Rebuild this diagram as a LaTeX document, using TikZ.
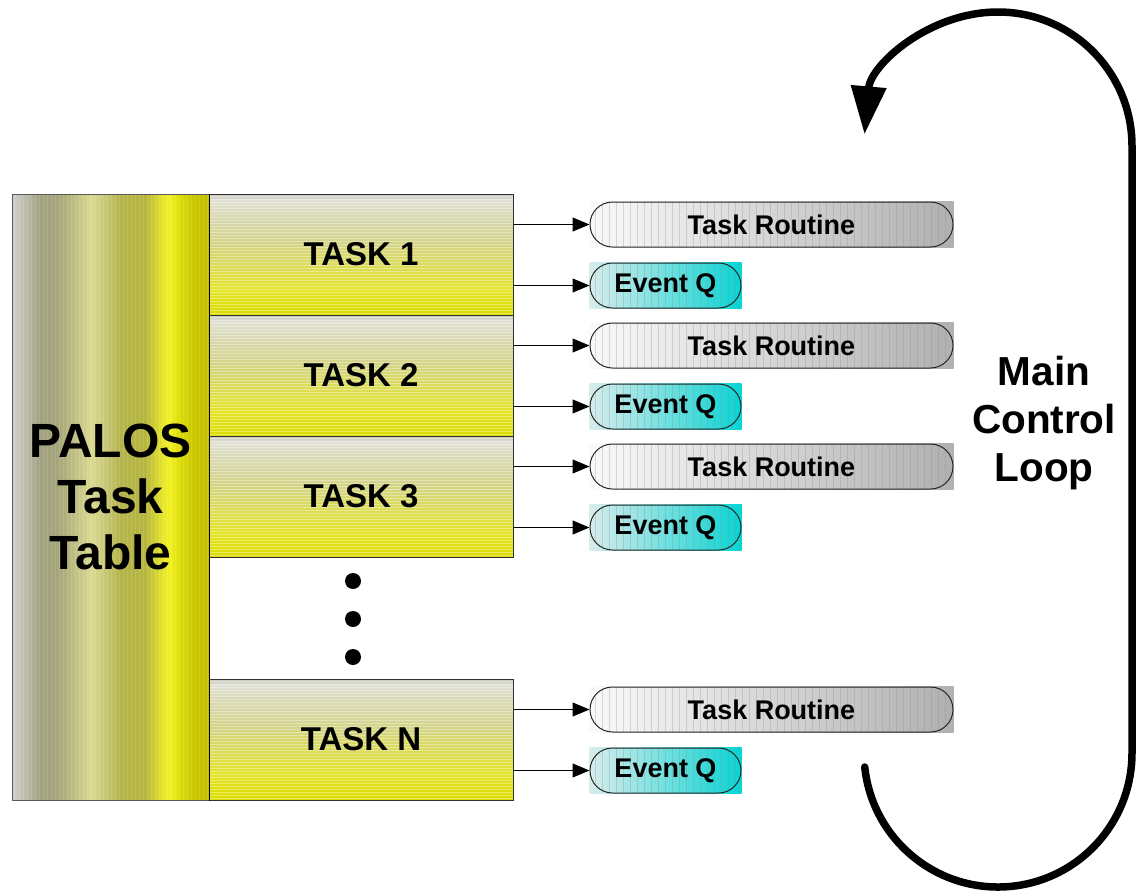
\documentclass[tikz,border=0pt]{standalone}
\usepackage{fontspec}
\setmainfont{Liberation Sans}
\usetikzlibrary{arrows.meta,backgrounds}

% colours of the task table column (left to right)
\definecolor{tb0}{HTML}{D0D0CC}
\definecolor{tb1}{HTML}{BCBCAC}
\definecolor{tb2}{HTML}{A2A282}
\definecolor{tb3}{HTML}{A4A47C}
\definecolor{tb4}{HTML}{B0B07C}
\definecolor{tb5}{HTML}{DADA92}
\definecolor{tb6}{HTML}{C8C878}
\definecolor{tb7}{HTML}{B4B44C}
\definecolor{tb8}{HTML}{B6B63E}
\definecolor{tb9}{HTML}{E4E42C}
\definecolor{tb10}{HTML}{F2F222}
\definecolor{tb11}{HTML}{DCDC08}
\definecolor{tb12}{HTML}{C8C400}
\definecolor{tb13}{HTML}{C4C000}
% colours of a task entry (top to bottom)
\definecolor{tk0}{HTML}{C8C8C0}
\definecolor{tk1}{HTML}{E0E0D4}
\definecolor{tk2}{HTML}{D8D8B0}
\definecolor{tk3}{HTML}{D4D488}
\definecolor{tk4}{HTML}{DCDC58}
\definecolor{tk5}{HTML}{E4E428}
\definecolor{tk6}{HTML}{DCDC00}
% routine and queue fills, outlines
\definecolor{rtL}{HTML}{FAFAFA}
\definecolor{rtR}{HTML}{B0B0B0}
\definecolor{evL}{HTML}{D8ECEC}
\definecolor{evR}{HTML}{08D4D4}
\definecolor{tableedge}{HTML}{5A5A5A}

\pgfdeclarehorizontalshading{tablesh}{100bp}{
  color(0bp)=(tb0); color(25bp)=(tb0); color(28.3bp)=(tb1); color(32bp)=(tb2);
  color(36bp)=(tb3); color(38.5bp)=(tb4); color(45bp)=(tb5); color(48.5bp)=(tb6);
  color(52.5bp)=(tb7); color(58.8bp)=(tb8); color(63bp)=(tb9); color(65bp)=(tb10);
  color(67.5bp)=(tb11); color(71.5bp)=(tb12); color(75bp)=(tb13); color(100bp)=(tb13)}

\pgfdeclareverticalshading{tasksh}{100bp}{
  color(0bp)=(tk6); color(25bp)=(tk6); color(35bp)=(tk5); color(45bp)=(tk4);
  color(55bp)=(tk3); color(65bp)=(tk2); color(72.5bp)=(tk1); color(75bp)=(tk0);
  color(100bp)=(tk0)}

\begin{document}
\begin{tikzpicture}[x=1pt,y=-1pt,
  tablebox/.style={shade, shading=tablesh, draw=tableedge, line width=1pt,
    minimum width=197pt, minimum height=606pt, inner sep=0pt, align=center,
    font=\fontsize{48}{56}\selectfont\bfseries,
    path picture={\foreach \k in {3,7,...,197}{
      \draw[white,opacity=.12,line width=1pt]
        ([xshift=\k pt]path picture bounding box.north west) --
        ([xshift=\k pt]path picture bounding box.south west);}}},
  taskbox/.style={shade, shading=tasksh, draw=black!80, line width=1pt,
    minimum width=304pt, minimum height=121pt, inner sep=0pt,
    font=\fontsize{33}{38}\selectfont\bfseries,
    path picture={\foreach \k in {2,5,...,119}{
      \draw[white,opacity=.35,line width=.9pt]
        ([yshift=-\k pt]path picture bounding box.north west) --
        ([yshift=-\k pt]path picture bounding box.north east);}}},
  pill/.style={draw=black!85, line width=1pt, rounded corners=22.5pt,
    minimum height=45pt, inner sep=0pt,
    font=\fontsize{27}{30}\selectfont\bfseries,
    path picture={\foreach \k in {5,12,...,360}{
      \draw[black!45,opacity=.3,line width=.6pt]
        ([xshift=\k pt]path picture bounding box.north west) --
        ([xshift=\k pt]path picture bounding box.south west);}}},
  routine/.style={pill, minimum width=363pt},
  eventq/.style={pill, minimum width=151pt},
  feed/.style={-{Triangle[length=17pt,width=14pt]}, line width=1pt},
  cycleline/.style={line width=7.5pt, line cap=round},
  dotmark/.style={circle, fill=black, minimum size=16pt, inner sep=0pt},
  labeltext/.style={align=center, font=\fontsize{40.5}{48}\selectfont\bfseries}
]
\useasboundingbox (0,0) rectangle (1136,892);

% task table column
\node[tablebox] (table) at (110.5,497) {PALOS\\Task\\Table};

% task entries with their routines and event queues
\foreach \i/\lab/\top in {1/TASK 1/194, 2/TASK 2/315, 3/TASK 3/436, N/TASK N/679}{
  \node[taskbox] (t\i) at (361,\top+60.5) {\lab};
  \node[routine] (r\i) at (771.5,\top+30.5) {Task Routine};
  \node[eventq] (q\i) at (665.5,\top+91.5) {Event Q};
  \begin{pgfonlayer}{background}
    \shade[left color=rtL, right color=rtR] (r\i.south west) rectangle (r\i.north east);
    \shade[left color=evL, right color=evR] (q\i.south west) rectangle (q\i.north east);
  \end{pgfonlayer}
  \draw[feed] (r\i.west -| t\i.east) -- (r\i.west);
  \draw[feed] (q\i.west -| t\i.east) -- (q\i.west);
}

% right edge of the table column
\draw[black, line width=1pt] (table.north east) -- (table.south east);

% ellipsis between TASK 3 and TASK N
\node[dotmark] (d1) at (353,581) {};
\node[dotmark] (d2) at (353,619) {};
\node[dotmark] (d3) at (353,657) {};

% main control loop
\node[labeltext] (mcl) at (1044,423) {Main\\Control\\Loop};
\draw[cycleline, -{Triangle[length=48pt,width=34pt]}]
  (998,753) ++(174:134) arc[start angle=174, end angle=0, radius=134]
  -- ++(0,-607) arc[start angle=0, end angle=-175, radius=134];
\end{tikzpicture}
\end{document}
